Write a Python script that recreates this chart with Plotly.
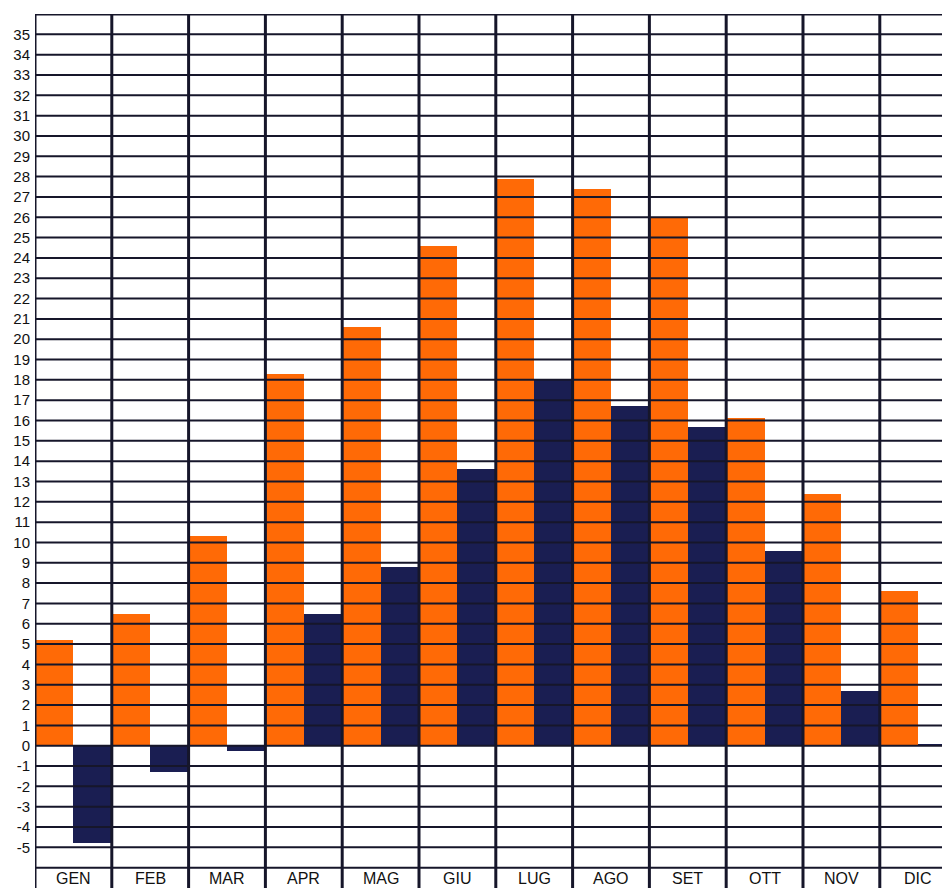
import plotly.graph_objects as go

months = ["GEN", "FEB", "MAR", "APR", "MAG", "GIU", "LUG", "AGO", "SET", "OTT", "NOV", "DIC"]
t_max = [5.2, 6.5, 10.3, 18.3, 20.6, 24.6, 27.9, 27.4, 26.0, 16.1, 12.4, 7.6]
t_min = [-4.8, -1.3, -0.25, 6.5, 8.8, 13.6, 18.0, 16.7, 15.7, 9.6, 2.7, 0.1]
y_ticks = list(range(-5, 36))

ORANGE = "#FF6A06"
NAVY = "#1A1E52"
INK = "#16162A"

xs = list(range(len(months)))

fig = go.Figure()
fig.add_trace(go.Bar(x=xs, y=t_max, marker=dict(color=ORANGE, line=dict(width=0)), name="max"))
fig.add_trace(go.Bar(x=xs, y=t_min, marker=dict(color=NAVY, line=dict(width=0)), name="min"))

shapes = []
# horizontal grid lines drawn over the bars
for v in range(-6, 36):
    shapes.append(dict(type="line", xref="paper", yref="y", x0=0, x1=1, y0=v, y1=v,
                       line=dict(color=INK, width=2), layer="above"))
# top border
shapes.append(dict(type="line", xref="paper", yref="y", x0=0, x1=1, y0=36, y1=36,
                   line=dict(color=INK, width=3), layer="above"))
# vertical column separators
for i in range(len(months) + 1):
    shapes.append(dict(type="line", xref="x", yref="y", x0=i - 0.5, x1=i - 0.5, y0=-7.2, y1=36,
                       line=dict(color=INK, width=3), layer="above"))

annotations = [dict(x=i, y=-6.55, xref="x", yref="y", text=m, showarrow=False,
                    font=dict(family="Liberation Sans, Arial, sans-serif", size=16, color="#111"),
                    xanchor="center", yanchor="middle")
               for i, m in enumerate(months)]

fig.update_layout(
    width=942, height=888,
    margin=dict(l=35, r=0, t=14, b=0),
    paper_bgcolor="white", plot_bgcolor="white",
    barmode="group", bargap=0, bargroupgap=0,
    showlegend=False,
    shapes=shapes, annotations=annotations,
    xaxis=dict(range=[-0.5, 11.31], showgrid=False, zeroline=False, showticklabels=False,
               showline=False, fixedrange=True),
    yaxis=dict(range=[-7.0, 36.0], tickvals=y_ticks, ticktext=[str(v) for v in y_ticks],
               showgrid=False, zeroline=False, showline=False, ticks="",
               ticklabelstandoff=4,
               tickfont=dict(family="Liberation Sans, Arial, sans-serif", size=15, color="#111"),
               fixedrange=True),
)

fig.write_html(
    "out.html",
    config={"displayModeBar": False},
    post_script="document.body.style.margin='0';document.body.style.overflow='hidden';",
)
